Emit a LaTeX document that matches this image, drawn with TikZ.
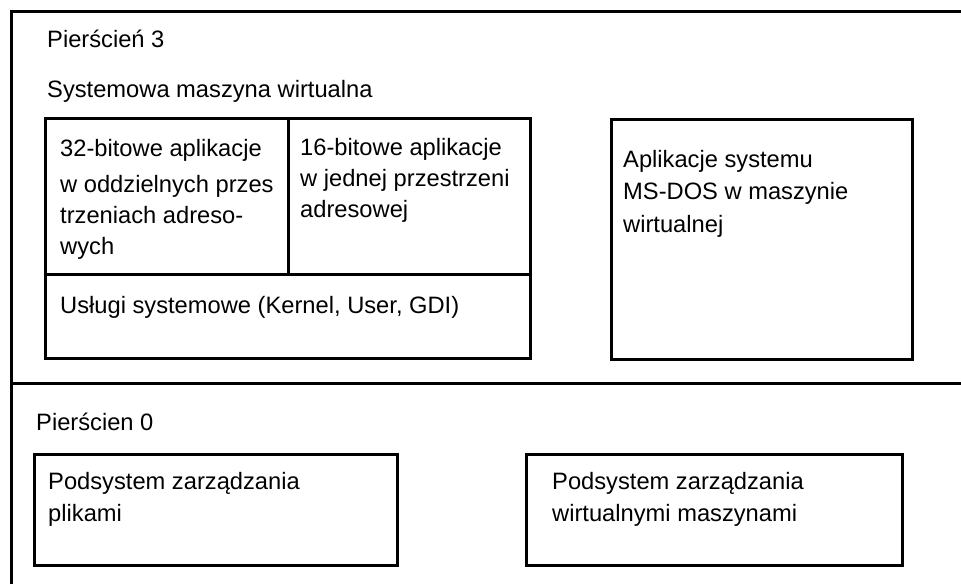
\documentclass[tikz,border=0pt]{standalone}
\usepackage{fontspec}
\setmainfont{Liberation Sans}
\begin{document}
\begin{tikzpicture}[x=1pt,y=-1pt,
  frame/.style={line width=3pt},
  box/.style={draw,line width=3pt},
  % multi-line labels are anchored at the baseline of their last line
  label/.style={anchor=base west,inner sep=0pt,align=left,
    font=\fontsize{23.7}{32.5}\selectfont}]
\useasboundingbox (0,0) rectangle (961,584);

% outer open frame and ring divider
\draw[frame] (11,584) -- (11,11) -- (961,11);
\draw[frame] (11,383) -- (961,383);

% ring 3
\node[label] (ring3) at (47,47) {Pierścień 3};
\node[label] (svm) at (47,97) {Systemowa maszyna wirtualna};

% system virtual machine block
\draw[box] (45,118) rectangle (530,358);
\draw[frame] (45,274) -- (530,274);
\draw[frame] (288,118) -- (288,274);
\node[label] (app32) at (60,254) {32-bitowe aplikacje\\[3pt]w oddzielnych przes\\[-1pt]trzeniach adreso-\\[-2pt]wych};
\node[label] (app16) at (300,217) {16-bitowe aplikacje\\[-1.5pt]w jednej przestrzeni\\[-1.5pt]adresowej};
\node[label] (svc) at (60,313) {Usługi systemowe (Kernel, User, GDI)};

% MS-DOS virtual machine
\draw[box] (611,119) rectangle (912,359);
\node[label] (dos) at (623,232) {Aplikacje systemu\\MS-DOS w maszynie\\wirtualnej};

% ring 0
\node[label] (ring0) at (36,430) {Pierścien 0};
\draw[box] (34,454) rectangle (397,565);
\node[label] (fs) at (48,521.5) {Podsystem zarządzania\\plikami};
\draw[box] (526,454) rectangle (902,565);
\node[label] (vmm) at (552,521.5) {Podsystem zarządzania\\wirtualnymi maszynami};
\end{tikzpicture}
\end{document}
